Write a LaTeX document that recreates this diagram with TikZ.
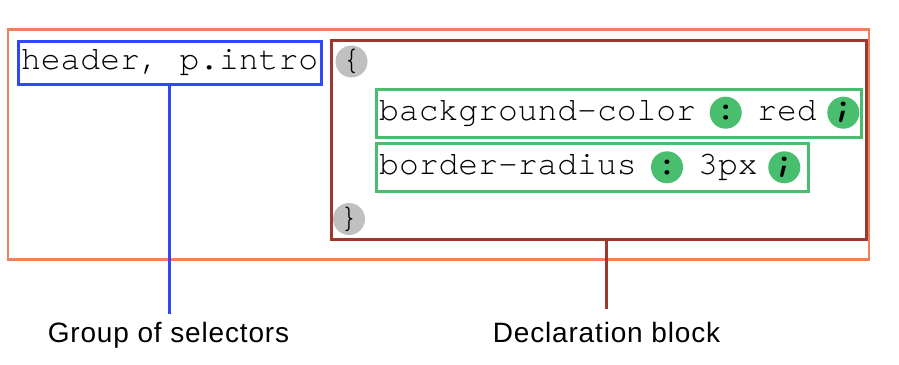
\documentclass[tikz,border=0pt]{standalone}
\usepackage{fontspec}
\setmonofont{TeX Gyre Cursor}
\newfontfamily\labelfont[LetterSpace=3]{Liberation Sans}
\usepackage{tikz}

\definecolor{ruleorange}{RGB}{240,128,90}
\definecolor{selblue}{RGB}{48,72,245}
\definecolor{declred}{RGB}{155,56,48}
\definecolor{propgreen}{RGB}{72,190,110}
\definecolor{bracegray}{RGB}{192,192,192}

\tikzset{
  box/.style={draw, inner sep=0pt, outer sep=0pt},
  code/.style={font=\fontsize{33}{33}\selectfont\ttfamily, inner sep=0pt, anchor=base west},
  punct/.style={circle, fill=propgreen, minimum size=32pt, inner sep=0pt, font=\fontsize{33}{33}\selectfont\ttfamily\bfseries},
  brace/.style={circle, fill=bracegray, minimum size=31pt, inner sep=0pt, font=\fontsize{34}{34}\selectfont\ttfamily},
  caption/.style={font=\fontsize{28}{28}\selectfont\labelfont, inner sep=0pt, anchor=north}
}

\begin{document}
\begin{tikzpicture}[x=1pt, y=-1pt]
    \useasboundingbox (0,0) rectangle (899,364);
    \node[box, draw=ruleorange, line width=2.6pt, minimum width=861pt, minimum height=230pt] (rule) at (438.5,144.5) {};
    \node[box, draw=selblue, line width=3pt, minimum width=303pt, minimum height=43pt, font=\fontsize{33}{33}\selectfont\ttfamily] (sel) at (169.6,62.5) {header, p.intro};
    \node[box, draw=declred, line width=3pt, minimum width=535pt, minimum height=199pt] (decl) at (598.5,139.5) {};
    \node[brace] (open) at (351.5,61.5) {\{};
    \node[brace] (close) at (349,219) {\}};
    \node[box, draw=propgreen, line width=3pt, minimum width=485.7pt, minimum height=47.7pt] (bgdecl) at (618.9,113.2) {};
    \node[code] (bgprop) at (379,120.7) {background-color};
    \node[punct] (bgcolon) at (725.7,112.7) {:};
    \node[code] (bgval) at (757,120.7) {red};
    \node[punct] (bgsemi) at (843.3,112.7) {;};
    \node[box, draw=propgreen, line width=3pt, minimum width=432.3pt, minimum height=47.7pt] (brdecl) at (592.2,167.2) {};
    \node[code] (brprop) at (379,174) {border-radius};
    \node[punct] (brcolon) at (667,167.3) {:};
    \node[code] (brval) at (698,174) {3px};
    \node[punct] (brsemi) at (784.3,167.3) {;};
    \node[caption] (grp) at (168.5,322) {Group of selectors};
    \node[caption] (blk) at (606.5,322) {Declaration block};
    \draw[selblue, line width=2.6pt, shorten >=8pt] (sel.south) -- (sel.south |- grp.north);
    \draw[declred, line width=2.6pt, shorten >=13pt] (blk.north |- decl.south) -- (blk.north);
\end{tikzpicture}
\end{document}
